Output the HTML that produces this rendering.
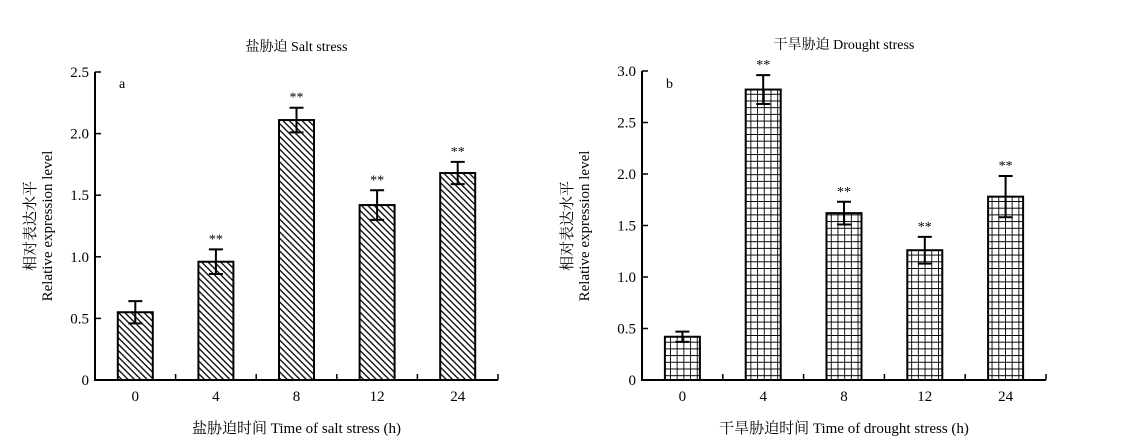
<!DOCTYPE html>
<html><head><meta charset="utf-8"><style>
body{margin:0;background:#fff;}
svg{display:block;font-family:"Liberation Serif","Noto Serif CJK SC",serif;}
</style></head><body>
<svg id="c" width="1132" height="448" viewBox="0 0 1132 448" xmlns="http://www.w3.org/2000/svg">
<defs>
<pattern id="hatch" patternUnits="userSpaceOnUse" width="4.5" height="4.5" patternTransform="rotate(45)">
<rect width="4.5" height="4.5" fill="#fff"/><line x1="0" y1="2.25" x2="4.5" y2="2.25" stroke="#000" stroke-width="1.3"/>
</pattern>
<pattern id="grid" patternUnits="userSpaceOnUse" width="6.7" height="6.7">
<rect width="6.7" height="6.7" fill="#fff"/><path d="M0 0H6.7M0 0V6.7" stroke="#000" stroke-width="1.8"/>
</pattern>
</defs>
</svg>
<script>
const categories=["0","4","8","12","24"];
const saltValues=[0.55,0.96,2.11,1.42,1.68];
const saltErrors=[0.09,0.10,0.10,0.12,0.09];
const saltStars=[false,true,true,true,true];
const saltTicks=["0","0.5","1.0","1.5","2.0","2.5"];
const droughtValues=[0.42,2.82,1.62,1.26,1.78];
const droughtErrors=[0.05,0.14,0.11,0.13,0.20];
const droughtStars=[false,true,true,true,true];
const droughtTicks=["0","0.5","1.0","1.5","2.0","2.5","3.0"];
const NS="http://www.w3.org/2000/svg";
const svg=document.getElementById('c');
function mk(t,a,p){const e=document.createElementNS(NS,t);for(const k in a)e.setAttribute(k,a[k]);(p||svg).appendChild(e);return e;}
function panel(o){
  const g=mk('g',{});
  
  
  const x0=o.x0,x1=o.x1,y0=380,yTop=o.yTop,max=o.max;
  const ys=v=>y0-(v/max)*(y0-yTop);
  const band=(x1-x0)/categories.length;
  const xc=i=>x0+band*(i+0.5);
  const t=mk('text',{x:(x0+x1)/2,y:o.titleY,'text-anchor':'middle','font-size':14},g);t.textContent=o.title;
  
  const lab=mk('text',{x:x0+24,y:88,'font-size':14},g);lab.textContent=o.letter;
  
  o.values.forEach((v,i)=>{
    const bw=35,cx=xc(i);
    const r=mk('rect',{x:cx-bw/2,y:ys(v),width:bw,height:y0-ys(v),fill:'url(#'+o.pat+')',stroke:'#000','stroke-width':2},g);
    
    const e=o.errs[i],yt=ys(v+e),yb=ys(v-e);
    const eb=mk('path',{d:`M${cx} ${yt}V${yb}M${cx-7} ${yt}H${cx+7}M${cx-7} ${yb}H${cx+7}`,stroke:'#000','stroke-width':2,fill:'none'},g);
    
    if(o.stars[i]){const s=mk('text',{x:cx,y:yt-6,'text-anchor':'middle','font-size':14},g);s.textContent='**';
      }
    const tl=mk('text',{x:cx,y:401,'text-anchor':'middle','font-size':15},g);tl.textContent=categories[i];
    
  });
  const ax=mk('path',{d:`M${x0} ${yTop}V${y0}H${x1}`,stroke:'#000','stroke-width':2,fill:'none'},g);
  
  for(let i=1;i<=categories.length;i++){mk('line',{x1:x0+band*i,x2:x0+band*i,y1:y0,y2:y0-6,stroke:'#000','stroke-width':1.5},g);}
  o.ticks.forEach(tk=>{const v=parseFloat(tk),y=ys(v);
    mk('line',{x1:x0,x2:x0+6,y1:y,y2:y,stroke:'#000','stroke-width':1.5},g);
    const tt=mk('text',{x:x0-6,y:y+5,'text-anchor':'end','font-size':15},g);tt.textContent=tk;
    });
  const xt=mk('text',{x:(x0+x1)/2,y:433,'text-anchor':'middle','font-size':15},g);xt.textContent=o.xtitle;
  
  const yt=mk('text',{transform:`translate(${o.ytx},226) rotate(-90)`,'text-anchor':'middle','font-size':15},g);
  
  const a=mk('tspan',{x:0,y:0},yt);a.textContent='相对表达水平';
  const b=mk('tspan',{x:0,y:17},yt);b.textContent='Relative expression level';
}
panel({name:'salt-stress-chart',x0:95,x1:498,yTop:72,max:2.5,values:saltValues,errs:saltErrors,stars:saltStars,ticks:saltTicks,pat:'hatch',title:'盐胁迫 Salt stress',titleY:51,letter:'a',xtitle:'盐胁迫时间 Time of salt stress (h)',ytx:35});
panel({name:'drought-stress-chart',x0:642,x1:1046,yTop:71,max:3.0,values:droughtValues,errs:droughtErrors,stars:droughtStars,ticks:droughtTicks,pat:'grid',title:'干旱胁迫 Drought stress',titleY:49,letter:'b',xtitle:'干旱胁迫时间 Time of drought stress (h)',ytx:572});
</script>
</body></html>
